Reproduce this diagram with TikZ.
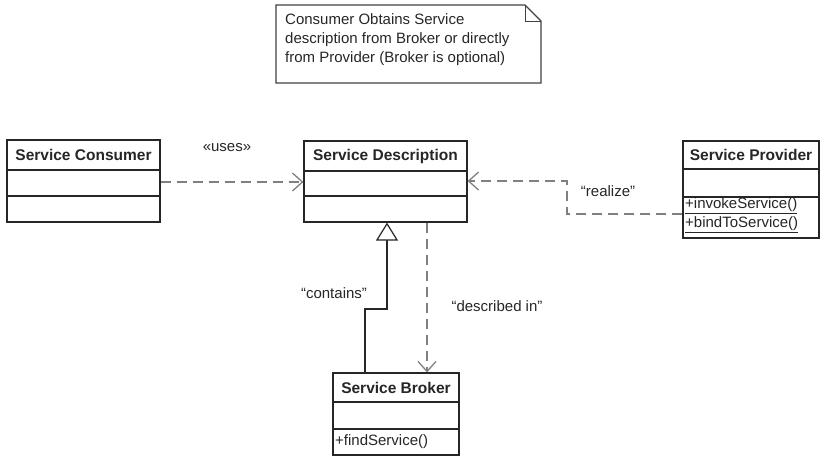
\documentclass[tikz,border=0pt]{standalone}
\usepackage{fontspec}
\setmainfont{Liberation Sans}
\usetikzlibrary{arrows.meta}
\begin{document}
\begin{tikzpicture}[x=1pt,y=-1pt,
  cls/.style={draw=black!85, line width=1.2pt, inner sep=0pt, fill=white},
  ttl/.style={font=\bfseries\fontsize{15.5}{18}\selectfont, inner sep=0pt, text=black!85},
  op/.style={font=\fontsize{15}{18}\selectfont, inner sep=0pt, anchor=west, text=black!85},
  lbl/.style={font=\fontsize{15}{18}\selectfont, inner sep=0pt, text=black!85},
  sep/.style={draw=black!85, line width=1.2pt},
  dep/.style={draw=gray, line width=2pt, dash pattern=on 10pt off 6pt,
    -{Straight Barb[length=10pt,width=18pt,line width=1.3pt]}},
  gen/.style={draw=black!85, line width=1.2pt,
    -{Triangle[open, length=18pt, width=22pt, fill=white, line width=1.2pt]}},
  notestyle/.style={font=\fontsize{15}{19}\selectfont, inner sep=0pt, align=left, text=black!85}
]
\useasboundingbox (0,0) rectangle (821,456);

% note
\node[notestyle, anchor=west] (note) at (285,40) {Consumer Obtains Service\\description from Broker or directly\\from Provider (Broker is optional)};
\draw[draw=black!75, line width=1.3pt] (276,5) -- (525,5) -- (541,21) -- (541,83) -- (276,83) -- cycle;
\draw[draw=black!75, line width=1.0pt] (525,5) -- (525,21) -- (541,21);

% Service Consumer
\node[cls, minimum width=153pt, minimum height=82pt] (consumer) at (83.5,181) {};
\node[ttl] (consumerT) at (83.5,155) {Service Consumer};
\draw[sep] (consumer.west |- 0,170) -- (consumer.east |- 0,170);
\draw[sep] (consumer.west |- 0,196) -- (consumer.east |- 0,196);

% Service Description
\node[cls, minimum width=163pt, minimum height=81pt] (desc) at (385.5,181.5) {};
\node[ttl] (descT) at (385.5,156) {Service Description};
\draw[sep] (desc.west |- 0,171) -- (desc.east |- 0,171);
\draw[sep] (desc.west |- 0,196) -- (desc.east |- 0,196);

% Service Provider
\node[cls, minimum width=136pt, minimum height=97pt] (provider) at (751,189.5) {};
\node[ttl] (providerT) at (751,155) {Service Provider};
\draw[sep] (provider.west |- 0,169) -- (provider.east |- 0,169);
\draw[sep] (provider.west |- 0,197) -- (provider.east |- 0,197);
\node[op] (invoke) at (685,206) {\underline{+invokeService()}};
\node[op] (bind) at (685,225) {\underline{+bindToService()}};

% Service Broker
\node[cls, minimum width=126pt, minimum height=82pt] (broker) at (396,414) {};
\node[ttl] (brokerT) at (396,388) {Service Broker};
\draw[sep] (broker.west |- 0,402) -- (broker.east |- 0,402);
\draw[sep] (broker.west |- 0,429) -- (broker.east |- 0,429);
\node[op] (find) at (335,442) {+findService()};

% connectors
\draw[dep] (consumer.east |- 0,182) -- (desc.west |- 0,182);
\draw[dep] (provider.west |- 0,214) -- (567,214) -- (567,181) -- (desc.east |- 0,181);
\draw[dep] (desc.south -| 427,0) -- (broker.north -| 427,0);
\draw[gen] (broker.north -| 365,0) -- (365,309) -- (387,309) -- (desc.south -| 387,0);

% labels
\node[lbl] (uses) at (227,148) {«uses»};
\node[lbl] (realize) at (608,191) {“realize”};
\node[lbl] (contains) at (334,293) {“contains”};
\node[lbl] (described) at (497,306) {“described in”};
\end{tikzpicture}
\end{document}
